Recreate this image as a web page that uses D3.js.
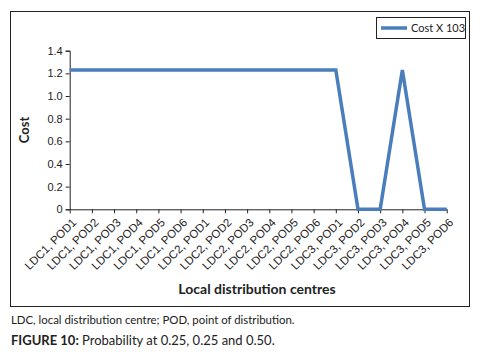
<!DOCTYPE html>
<html>
<head>
<meta charset="utf-8">
<script src="https://d3js.org/d3.v7.min.js"></script>
<style>
  body { margin: 0; background: #fff; }
  svg { font-family: Lato, "Open Sans", sans-serif; }
  .axis path, .axis line { stroke: #222; }
  .axis text { fill: #222; font-size: 11px; }
  .xaxis text { font-size: 11.5px; }
</style>
</head>
<body>
<svg id="chart" width="480" height="362"></svg>
<script>
var categories = ['LDC1, POD1', 'LDC1, POD2', 'LDC1, POD3', 'LDC1, POD4', 'LDC1, POD5', 'LDC1, POD6',
                  'LDC2, POD1', 'LDC2, POD2', 'LDC2, POD3', 'LDC2, POD4', 'LDC2, POD5', 'LDC2, POD6',
                  'LDC3, POD1', 'LDC3, POD2', 'LDC3, POD3', 'LDC3, POD4', 'LDC3, POD5', 'LDC3, POD6'];
var costs = [1.23, 1.23, 1.23, 1.23, 1.23, 1.23, 1.23, 1.23, 1.23, 1.23, 1.23, 1.23,
             1.23, 0, 0, 1.23, 0, 0];
var yTicks = [0, 0.2, 0.4, 0.6, 0.8, 1.0, 1.2, 1.4];
var seriesName = 'Cost X 103';

var margin = { top: 50.7, left: 69.7 };
var width = 377, height = 158.6;

var svg = d3.select('#chart');

// outer frame
svg.append('rect')
  .attr('x', 10.5).attr('y', 11.5)
  .attr('width', 459).attr('height', 295)
  .attr('fill', 'none').attr('stroke', '#222').attr('stroke-width', 1);

var g = svg.append('g')
  .attr('transform', 'translate(' + margin.left + ',' + margin.top + ')');

var x = d3.scalePoint()
  .domain(categories)
  .range([0, width]);

var y = d3.scaleLinear()
  .domain([0, 1.4])
  .range([height, 0]);

var yAxis = d3.axisLeft(y)
  .tickValues(yTicks)
  .tickSize(4)
  .tickFormat(function (d) { return d === 0 ? '0' : d3.format('.1f')(d); });

g.append('g').attr('class', 'axis').call(yAxis)
  .selectAll('text').attr('x', -7);

var xAxis = d3.axisBottom(x).tickSize(4).tickSizeOuter(0);

var xg = g.append('g').attr('class', 'axis xaxis')
  .attr('transform', 'translate(0,' + height + ')')
  .call(xAxis);

xg.selectAll('text')
  .attr('text-anchor', 'end')
  .attr('dy', '0.35em')
  .attr('transform', 'translate(4,11) rotate(-45)')
  .attr('x', 0).attr('y', 0);

var line = d3.line()
  .x(function (d, i) { return x(categories[i]); })
  .y(function (d) { return y(d); });

g.append('path')
  .datum(costs)
  .attr('d', line)
  .attr('fill', 'none')
  .attr('stroke', '#4a7ebb')
  .attr('stroke-width', 3.5)
  .attr('stroke-linejoin', 'miter');

// axis titles
svg.append('text')
  .attr('transform', 'translate(29,130) rotate(-90)')
  .attr('text-anchor', 'middle')
  .style('font-weight', 'bold').style('font-size', '13px').attr('fill', '#222')
  .text('Cost');

svg.append('text')
  .attr('x', 257).attr('y', 294)
  .attr('text-anchor', 'middle')
  .style('font-weight', 'bold').style('font-size', '14px').attr('fill', '#222')
  .text('Local distribution centres');

// legend
var lg = svg.append('g').attr('transform', 'translate(376,17)');
lg.append('rect').attr('x', 0.5).attr('y', 0.5).attr('width', 89).attr('height', 21)
  .attr('fill', '#fff').attr('stroke', '#222');
lg.append('line').attr('x1', 5).attr('x2', 31).attr('y1', 11).attr('y2', 11)
  .attr('stroke', '#4a7ebb').attr('stroke-width', 3.5);
lg.append('text').attr('x', 35).attr('y', 15)
  .style('font-size', '11px').attr('fill', '#222').text(seriesName);

// captions
svg.append('text').attr('x', 11).attr('y', 324)
  .style('font-size', '11.4px').attr('fill', '#222')
  .text('LDC, local distribution centre; POD, point of distribution.');

var cap = svg.append('text').attr('x', 11).attr('y', 345)
  .style('font-size', '13px').attr('fill', '#222');
cap.append('tspan').style('font-weight', 'bold').text('FIGURE 10:');
cap.append('tspan').text(' Probability at 0.25, 0.25 and 0.50.');
</script>
</body>
</html>
